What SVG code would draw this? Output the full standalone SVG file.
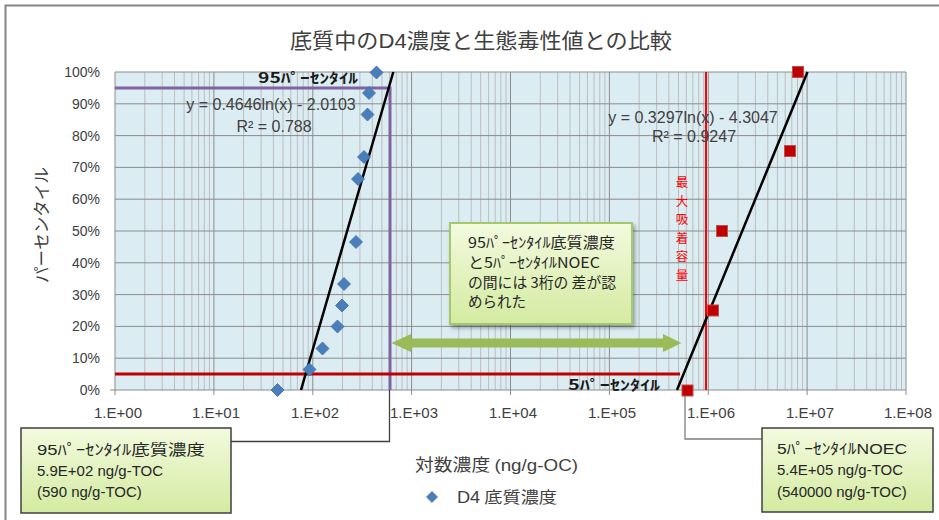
<svg xmlns="http://www.w3.org/2000/svg" width="939" height="520" viewBox="0 0 939 520">
<defs>
<linearGradient id="gb" x1="0" y1="0" x2="0" y2="1">
<stop offset="0" stop-color="#f3fadf"/>
<stop offset="1" stop-color="#d3eba0"/>
</linearGradient>
<path id="dia" d="M0,-6.5 L6.5,0 L0,6.5 L-6.5,0Z" fill="#4a7ebb" stroke="#3d6ea8" stroke-width="0.8"/>
<rect id="sq" x="-5.5" y="-5.5" width="11" height="11" fill="#c00000" stroke="#c0504d" stroke-width="1"/>
<filter id="sh" x="-10%" y="-10%" width="130%" height="130%"><feGaussianBlur in="SourceAlpha" stdDeviation="2"/><feOffset dx="2" dy="3"/><feComponentTransfer><feFuncA type="linear" slope="0.35"/></feComponentTransfer><feMerge><feMergeNode/><feMergeNode in="SourceGraphic"/></feMerge></filter>
</defs>
<style>
.t{font-family:"Liberation Sans","Noto Sans CJK JP",sans-serif;fill:#404040}
.jp{font-family:"Noto Sans CJK JP","Liberation Sans",sans-serif;fill:#404040}
.ax{font-size:14px;text-anchor:end}
.xl{font-size:15px;text-anchor:middle}
.eq{font-size:16px;text-anchor:middle}
.bx{font-size:15px;fill:#262626}
.mn{stroke:#bdbdbd;stroke-width:1;fill:none}
.mj{stroke:#8c8c8c;stroke-width:1;fill:none}
.red{font-family:"Noto Sans CJK JP",sans-serif;font-size:12.5px;fill:#ff0000;text-anchor:middle}
</style>
<rect x="5.5" y="5.5" width="1000" height="600" fill="#ffffff" stroke="#868686" stroke-width="2"/>
<text class="jp" x="290" y="48" font-size="21" textLength="382" lengthAdjust="spacingAndGlyphs">底質中の<tspan font-family="Liberation Sans">D4</tspan>濃度と生態毒性値との比較</text>
<g id="plot">
<rect x="115" y="72" width="791" height="318" fill="#dbedf3"/>
<path class="mn" d="M144.8 72V390M162.2 72V390M174.5 72V390M184.1 72V390M191.9 72V390M198.6 72V390M204.3 72V390M209.4 72V390M243.6 72V390M261.1 72V390M273.4 72V390M283 72V390M290.8 72V390M297.4 72V390M303.2 72V390M308.2 72V390M342.5 72V390M359.9 72V390M372.3 72V390M381.9 72V390M389.7 72V390M396.3 72V390M402 72V390M407.1 72V390M441.4 72V390M458.8 72V390M471.2 72V390M480.7 72V390M488.6 72V390M495.2 72V390M500.9 72V390M506 72V390M540.3 72V390M557.7 72V390M570 72V390M579.6 72V390M587.4 72V390M594.1 72V390M599.8 72V390M604.9 72V390M639.1 72V390M656.6 72V390M668.9 72V390M678.5 72V390M686.3 72V390M692.9 72V390M698.7 72V390M703.7 72V390M738 72V390M755.4 72V390M767.8 72V390M777.4 72V390M785.2 72V390M791.8 72V390M797.5 72V390M802.6 72V390M836.9 72V390M854.3 72V390M866.7 72V390M876.2 72V390M884.1 72V390M890.7 72V390M896.4 72V390M901.5 72V390"/>
<path class="mj" d="M115 72H906M115 103.8H906M115 135.6H906M115 167.4H906M115 199.2H906M115 231H906M115 262.8H906M115 294.6H906M115 326.4H906M115 358.2H906M110 390H906"/>
<path class="mj" d="M115 72V395M213.9 72V395M312.8 72V395M411.6 72V395M510.5 72V395M609.4 72V395M708.3 72V395M807.1 72V395M906 72V395"/>
</g>
<g id="axis-labels">
<text class="t ax" x="100" y="77">100%</text>
<text class="t ax" x="100" y="108.8">90%</text>
<text class="t ax" x="100" y="140.6">80%</text>
<text class="t ax" x="100" y="172.4">70%</text>
<text class="t ax" x="100" y="204.2">60%</text>
<text class="t ax" x="100" y="236">50%</text>
<text class="t ax" x="100" y="267.8">40%</text>
<text class="t ax" x="100" y="299.6">30%</text>
<text class="t ax" x="100" y="331.4">20%</text>
<text class="t ax" x="100" y="363.2">10%</text>
<text class="t ax" x="100" y="395">0%</text>
<text class="t xl" x="118" y="418">1.E+00</text>
<text class="t xl" x="216" y="418">1.E+01</text>
<text class="t xl" x="315" y="418">1.E+02</text>
<text class="t xl" x="414" y="418">1.E+03</text>
<text class="t xl" x="513" y="418">1.E+04</text>
<text class="t xl" x="612" y="418">1.E+05</text>
<text class="t xl" x="711" y="418">1.E+06</text>
<text class="t xl" x="810" y="418">1.E+07</text>
<text class="t xl" x="908" y="418">1.E+08</text>
<text class="jp" x="415" y="471" font-size="17" textLength="163" lengthAdjust="spacingAndGlyphs">対数濃度 <tspan font-family="Liberation Sans">(ng/g-OC)</tspan></text>
<text class="jp" transform="translate(47.5,225) rotate(-90)" font-size="17" text-anchor="middle" fill="#262626" textLength="116" lengthAdjust="spacingAndGlyphs">パーセンタイル</text>
</g>
<g id="legend">
<use href="#dia" transform="translate(432,497) scale(0.85)"/>
<text class="jp" x="457" y="503" font-size="16" textLength="100" lengthAdjust="spacingAndGlyphs"><tspan font-family="Liberation Sans">D4</tspan> 底質濃度</text>
</g>
<g id="max-adsorption">
<line x1="706" y1="72" x2="706" y2="390" stroke="#ff0000" stroke-width="2"/>
<text class="red" x="682" y="187">最</text>
<text class="red" x="682" y="205.5">大</text>
<text class="red" x="682" y="224">吸</text>
<text class="red" x="682" y="242.5">着</text>
<text class="red" x="682" y="261">容</text>
<text class="red" x="682" y="279.5">量</text>
</g>
<g id="connectors">
<path d="M115 88H390V390" fill="none" stroke="#8064a2" stroke-width="3"/>
<path d="M115 374H680" fill="none" stroke="#c00000" stroke-width="3"/>
<path d="M389.5 390V441.5H231" fill="none" stroke="#404040" stroke-width="1.3"/>
<path d="M685 395V439H762" fill="none" stroke="#7f7f7f" stroke-width="1.3"/>
<polygon points="391.5,343 411,334 411,338.5 663,338.5 663,334 681.5,343 663,352 663,347.5 411,347.5 411,352" fill="#9bbb59"/>
</g>
<g id="trend">
<line x1="301" y1="390" x2="393.3" y2="72" stroke="#000" stroke-width="2.5"/>
<line x1="677" y1="390" x2="807.5" y2="72" stroke="#000" stroke-width="2.5"/>
</g>
<g id="d4-points">
<use href="#dia" x="376.5" y="72.5"/>
<use href="#dia" x="369" y="93"/>
<use href="#dia" x="367.5" y="114.5"/>
<use href="#dia" x="364" y="157"/>
<use href="#dia" x="358" y="179"/>
<use href="#dia" x="356" y="242"/>
<use href="#dia" x="344" y="284"/>
<use href="#dia" x="342" y="305.5"/>
<use href="#dia" x="337.5" y="326.5"/>
<use href="#dia" x="322.5" y="348.5"/>
<use href="#dia" x="309.5" y="369.5"/>
<use href="#dia" x="277.5" y="390"/>
</g>
<g id="noec-points">
<use href="#sq" x="798" y="72"/>
<use href="#sq" x="790" y="151"/>
<use href="#sq" x="722" y="231"/>
<use href="#sq" x="713" y="310.5"/>
<use href="#sq" x="687.5" y="390.5"/>
</g>
<g id="labels">
<text class="jp" x="258" y="83" font-size="14" font-weight="bold" fill="#1a1a1a" style="fill:#1a1a1a" textLength="100" lengthAdjust="spacingAndGlyphs">95ﾊﾟｰｾﾝﾀｲﾙ</text>
<text class="jp" x="568" y="390" font-size="14" font-weight="bold" fill="#1a1a1a" style="fill:#1a1a1a" textLength="92" lengthAdjust="spacingAndGlyphs">5ﾊﾟｰｾﾝﾀｲﾙ</text>
<text class="t eq" x="271" y="110">y = 0.4646ln(x) - 2.0103</text>
<text class="t eq" x="274" y="132">R² = 0.788</text>
<text class="t eq" x="693" y="123">y = 0.3297ln(x) - 4.3047</text>
<text class="t eq" x="694" y="142">R² = 0.9247</text>
</g>
<g id="box-95">
<rect x="21" y="428" width="210" height="85" fill="url(#gb)" stroke="#3f3f3f" stroke-width="1.5"/>
<text class="t bx" x="37" y="455" textLength="168" lengthAdjust="spacingAndGlyphs">95ﾊﾟｰｾﾝﾀｲﾙ底質濃度</text>
<text class="t bx" x="37" y="476">5.9E+02 ng/g-TOC</text>
<text class="t bx" x="37" y="497">(590 ng/g-TOC)</text>
</g>
<g id="box-5">
<rect x="762" y="428" width="171" height="84" fill="url(#gb)" stroke="#3f3f3f" stroke-width="1.5"/>
<text class="t bx" x="777" y="454" textLength="130" lengthAdjust="spacingAndGlyphs">5ﾊﾟｰｾﾝﾀｲﾙNOEC</text>
<text class="t bx" x="777" y="475">5.4E+05 ng/g-TOC</text>
<text class="t bx" x="777" y="497">(540000 ng/g-TOC)</text>
</g>
<g id="box-diff">
<rect x="450" y="223" width="182" height="101" fill="url(#gb)" stroke="#a8c66c" stroke-width="2" filter="url(#sh)"/>
<text class="jp" font-size="14.5" fill="#262626" style="fill:#262626">
<tspan x="468" y="248" textLength="147" lengthAdjust="spacingAndGlyphs">95ﾊﾟｰｾﾝﾀｲﾙ底質濃度</tspan>
<tspan x="468" y="268" textLength="132" lengthAdjust="spacingAndGlyphs">と5ﾊﾟｰｾﾝﾀｲﾙNOEC</tspan>
<tspan x="468" y="288" textLength="148" lengthAdjust="spacingAndGlyphs">の間には 3桁の 差が認</tspan>
<tspan x="468" y="307">められた</tspan>
</text>
</g>
</svg>
